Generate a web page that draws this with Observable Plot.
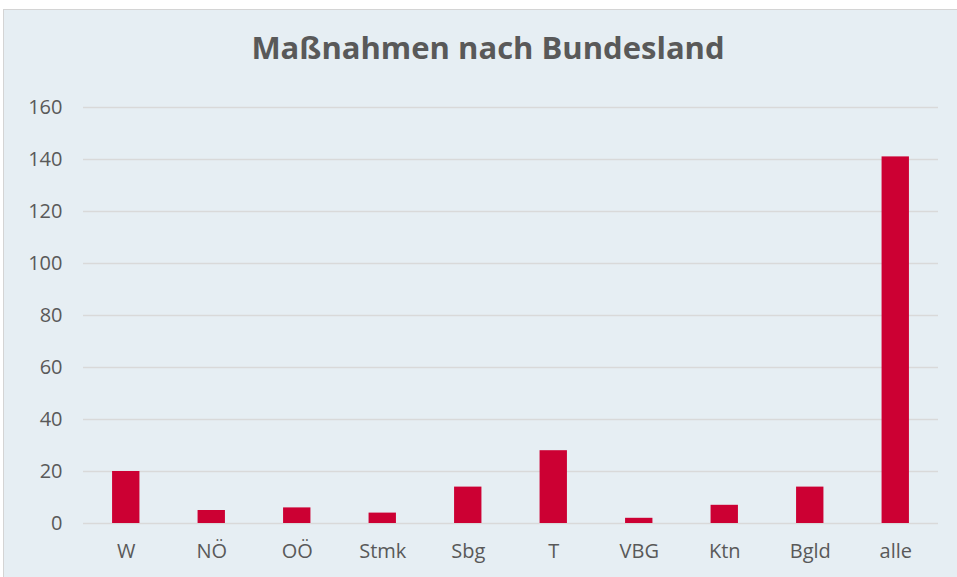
<!DOCTYPE html>
<html>
<head>
<meta charset="utf-8">
<script src="https://cdn.jsdelivr.net/npm/d3@7"></script>
<script src="https://cdn.jsdelivr.net/npm/@observablehq/plot@0.6"></script>
<style>
  html, body { margin: 0; padding: 0; background: #ffffff; width: 957px; height: 577px; overflow: hidden; }
  #frame { position: absolute; left: 3px; top: 9px; width: 960px; height: 580px; background: #e6eef3; border: 1px solid #d4d4d4; box-sizing: border-box; }
  #title { position: absolute; left: 0; top: 26px; width: 976px; text-align: center; font-family: "Open Sans", sans-serif; font-weight: bold; font-size: 31px; color: #595959; }
  #chart { position: absolute; left: 0; top: 0; }
</style>
</head>
<body>
<div id="frame"></div>
<div id="title">Maßnahmen nach Bundesland</div>
<div id="chart"></div>
<script>
const categories = ["W", "NÖ", "OÖ", "Stmk", "Sbg", "T", "VBG", "Ktn", "Bgld", "alle"];
const values = [20, 5, 6, 4, 14, 28, 2, 7, 14, 141];
const yTicks = [0, 20, 40, 60, 80, 100, 120, 140, 160];

const data = categories.map((c, i) => ({category: c, value: values[i]}));

const chart = Plot.plot({
  width: 957,
  height: 577,
  marginLeft: 83,
  marginRight: 19,
  marginTop: 107,
  marginBottom: 54,
  style: {background: "transparent", fontFamily: "Open Sans, sans-serif", fontSize: "20px", color: "#595959"},
  x: {domain: categories, paddingInner: 0.68, paddingOuter: 0.34, round: false, label: null},
  y: {domain: [0, 160], ticks: yTicks, label: null},
  marks: [
    Plot.gridY(yTicks, {stroke: "#d9d9d9", strokeOpacity: 1, strokeWidth: 1.5}),
    Plot.barY(data, {x: "category", y: "value", fill: "#cc0033"}),
    Plot.axisX({tickSize: 0, tickPadding: 20, fontSize: 20, fill: "#595959"}),
    Plot.axisY({ticks: yTicks, tickSize: 0, tickPadding: 21, fontSize: 20, fill: "#595959"})
  ]
});
document.getElementById("chart").appendChild(chart);
</script>
</body>
</html>
